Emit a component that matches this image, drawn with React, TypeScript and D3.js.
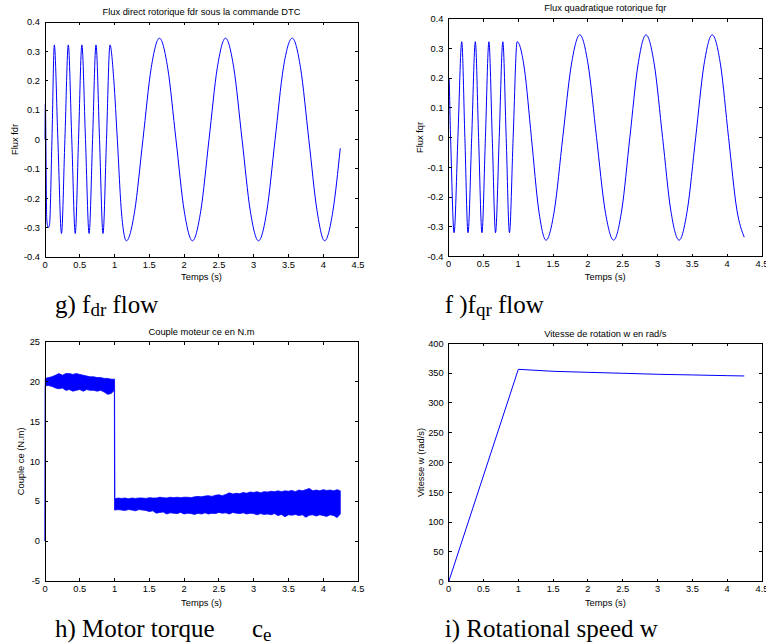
import React from "react";
import * as d3 from "d3";

const W = 766;
const H = 644;
const uiFont = "'Liberation Sans', Arial, Helvetica, sans-serif";
const capFont = "'Liberation Serif', 'Times New Roman', serif";
const blue = "#0000ff";

// axes ticks
const timeTicks = [0, 0.5, 1, 1.5, 2, 2.5, 3, 3.5, 4, 4.5];
const fluxTicks = [-0.4, -0.3, -0.2, -0.1, 0, 0.1, 0.2, 0.3, 0.4];
const torqueTicks = [-5, 0, 5, 10, 15, 20, 25];
const speedTicks = [0, 50, 100, 150, 200, 250, 300, 350, 400];

// flux fdr (Wb) vs time (s)
const fdrTime = [
  0, 0.005, 0.025, 0.045, 0.065, 0.1, 0.134, 0.185, 0.237, 0.286, 0.335, 0.385,
  0.435, 0.482, 0.53, 0.582, 0.634, 0.684, 0.733, 0.784, 0.834, 0.884, 0.934,
  0.99, 1.04, 1.1, 1.17, 1.289, 1.408, 1.527, 1.645, 1.764, 1.883, 2.002, 2.12,
  2.239, 2.358, 2.477, 2.595, 2.714, 2.833, 2.952, 3.07, 3.189, 3.308, 3.427,
  3.555, 3.674, 3.793, 3.912, 4.02, 4.139, 4.245,
];
const fdrFlux = [
  0, 0.12, -0.27, -0.3, -0.29, 0, 0.322, 0, -0.32, 0, 0.322, 0, -0.32, 0, 0.322,
  0, -0.32, 0, 0.322, 0, -0.32, 0, 0.322, 0.2, 0, -0.25, -0.345, -0.244, 0,
  0.244, 0.345, 0.244, 0, -0.244, -0.345, -0.244, 0, 0.244, 0.345, 0.244, 0,
  -0.244, -0.345, -0.244, 0, 0.244, 0.345, 0.244, 0, -0.244, -0.345, -0.244,
  -0.03,
];

// flux fqr (Wb) vs time (s)
const fqrTime = [
  0, 0.005, 0.03, 0.08, 0.135, 0.19, 0.235, 0.28, 0.333, 0.385, 0.432, 0.48,
  0.53, 0.58, 0.628, 0.675, 0.728, 0.78, 0.828, 0.875, 0.928, 0.985, 1.09, 1.19,
  1.295, 1.4, 1.52, 1.64, 1.763, 1.885, 2.005, 2.125, 2.247, 2.37, 2.487, 2.603,
  2.72, 2.835, 2.955, 3.073, 3.19, 3.31, 3.428, 3.548, 3.667, 3.785, 3.905,
  4.02, 4.14, 4.245,
];
const fqrFlux = [
  0, 0.2, 0, -0.32, 0, 0.322, 0, -0.32, 0, 0.322, 0, -0.32, 0, 0.322, 0, -0.32,
  0, 0.322, 0, -0.32, 0, 0.322, 0.23, 0, -0.244, -0.345, -0.244, 0, 0.244,
  0.345, 0.244, 0, -0.244, -0.345, -0.244, 0, 0.244, 0.345, 0.244, 0, -0.244,
  -0.345, -0.244, 0, 0.244, 0.345, 0.244, 0, -0.244, -0.335,
];

// torque ce (N.m): ripple band, upper and lower envelope
const ceTime = [
  0, 0.004, 0.05, 0.1, 0.15, 0.2, 0.25, 0.3, 0.35, 0.4, 0.45, 0.5, 0.55, 0.6,
  0.65, 0.7, 0.75, 0.8, 0.85, 0.9, 0.95, 0.997, 1.0,
  1.005, 1.05, 1.1, 1.15, 1.2, 1.25, 1.3, 1.35, 1.4, 1.45,
  1.5, 1.55, 1.6, 1.65, 1.7, 1.75, 1.8, 1.85, 1.9, 1.95,
  2.0, 2.05, 2.1, 2.15, 2.2, 2.25, 2.3, 2.35, 2.4, 2.45,
  2.5, 2.55, 2.6, 2.65, 2.7, 2.75, 2.8, 2.85, 2.9, 2.95,
  3.0, 3.05, 3.1, 3.15, 3.2, 3.25, 3.3, 3.35, 3.4, 3.45,
  3.5, 3.55, 3.6, 3.65, 3.7, 3.75, 3.8, 3.85, 3.9, 3.95,
  4.0, 4.05, 4.1, 4.15, 4.2, 4.245,
];
const ceHigh = [
  0, 20.4, 20.5, 20.6, 20.8, 21.0, 20.8, 21.0, 21.0, 20.9, 21.0, 20.9, 20.8,
  20.7, 20.6, 20.6, 20.5, 20.5, 20.4, 20.4, 20.3, 20.3, 20.3,
  5.3, 5.4, 5.35, 5.4, 5.3, 5.4, 5.35, 5.4, 5.4, 5.35,
  5.45, 5.4, 5.4, 5.5, 5.45, 5.4, 5.5, 5.45, 5.5, 5.45,
  5.5, 5.5, 5.45, 5.55, 5.6, 5.55, 5.65, 5.7, 5.6, 5.75,
  5.8, 5.7, 5.85, 6.05, 5.9, 6.0, 5.95, 6.1, 6.0, 6.15,
  6.1, 6.2, 6.05, 6.2, 6.15, 6.25, 6.2, 6.3, 6.2, 6.3,
  6.25, 6.35, 6.2, 6.4, 6.3, 6.45, 6.6, 6.3, 6.4, 6.3,
  6.45, 6.35, 6.4, 6.3, 6.45, 6.3,
];
const ceLow = [
  0, 19.5, 19.5, 19.4, 19.2, 19.1, 19.2, 18.9, 19.0, 18.8, 18.9, 19.0, 18.8,
  19.0, 18.9, 18.9, 18.8, 18.9, 18.7, 18.4, 18.5, 18.9, 3.9,
  3.9, 3.95, 3.9, 3.85, 3.95, 3.9, 3.8, 3.95, 3.9, 3.85,
  3.7, 3.8, 3.5, 3.6, 3.65, 3.4, 3.55, 3.5, 3.45, 3.6,
  3.4, 3.5, 3.45, 3.35, 3.5, 3.4, 3.55, 3.4, 3.5, 3.45,
  3.6, 3.5, 3.55, 3.4, 3.6, 3.5, 3.45, 3.55, 3.4, 3.5,
  3.45, 3.3, 3.45, 3.35, 3.4, 3.3, 3.45, 3.2, 3.35, 3.05,
  3.3, 3.25, 3.35, 3.2, 3.3, 3.0, 3.25, 3.3, 3.15, 3.3,
  3.2, 3.1, 3.3, 3.2, 2.95, 3.4,
];

// rotor speed w (rad/s)
const wTime = [0, 1.0, 1.5, 2.0, 2.5, 3.0, 3.5, 4.0, 4.245];
const wSpeed = [0, 356.4, 353, 351.3, 349.7, 348, 346.9, 345.7, 345.2];

type Box = { left: number; top: number; right: number; bottom: number };

function Axes(props: {
  box: Box;
  yDomain: [number, number];
  yTicks: number[];
  title: string;
  titleY: number;
  yLabel: string;
  yLabelX: number;
  xLabelY: number;
  draw: (x: d3.ScaleLinear<number, number>, y: d3.ScaleLinear<number, number>) => React.ReactNode;
}) {
  const { box, yDomain, yTicks, title, titleY, yLabel, yLabelX, xLabelY, draw } = props;
  const x = d3.scaleLinear().domain([0, 4.5]).range([box.left, box.right]);
  const y = d3.scaleLinear().domain(yDomain).range([box.bottom, box.top]);
  const cx = (box.left + box.right) / 2;
  const cy = (box.top + box.bottom) / 2;
  const tl = 3;
  return (
    <g fontFamily={uiFont} fontSize={9.3} fill="#000">
      {draw(x, y)}
      <rect
        x={box.left}
        y={box.top}
        width={box.right - box.left}
        height={box.bottom - box.top}
        fill="none"
        stroke="#000"
        strokeWidth={1}
        shapeRendering="crispEdges"
      />
      {timeTicks.map((t) => (
        <g key={"x" + t}>
          <line x1={x(t)} x2={x(t)} y1={box.bottom} y2={box.bottom - tl} stroke="#000" shapeRendering="crispEdges" />
          <line x1={x(t)} x2={x(t)} y1={box.top} y2={box.top + tl} stroke="#000" shapeRendering="crispEdges" />
          <text x={x(t)} y={box.bottom + 10.7} textAnchor="middle">
            {String(t)}
          </text>
        </g>
      ))}
      {yTicks.map((v) => (
        <g key={"y" + v}>
          <line x1={box.left} x2={box.left + tl} y1={y(v)} y2={y(v)} stroke="#000" shapeRendering="crispEdges" />
          <line x1={box.right} x2={box.right - tl} y1={y(v)} y2={y(v)} stroke="#000" shapeRendering="crispEdges" />
          <text x={box.left - 5} y={y(v)} dy="0.35em" textAnchor="end">
            {String(v)}
          </text>
        </g>
      ))}
      <text x={cx} y={titleY} textAnchor="middle">
        {title}
      </text>
      <text x={cx} y={xLabelY} textAnchor="middle">
        Temps (s)
      </text>
      <text transform={`translate(${yLabelX},${cy}) rotate(-90)`} textAnchor="middle" dy="0.35em">
        {yLabel}
      </text>
    </g>
  );
}

export default function App() {
  const box1: Box = { left: 45, top: 22, right: 358, bottom: 257 };
  const box2: Box = { left: 448.5, top: 18.5, right: 762, bottom: 256.5 };
  const box3: Box = { left: 45, top: 341.7, right: 358, bottom: 581 };
  const box4: Box = { left: 448.7, top: 343.3, right: 762, bottom: 581.7 };

  const lineOf = (ts: number[], vs: number[], x: any, y: any, curve: any) =>
    d3
      .line<number>()
      .x((_, i) => x(ts[i]))
      .y((v) => y(v))
      .curve(curve)(vs) || "";

  return (
    <svg
      width={W}
      height={H}
      style={{ position: "absolute", left: 0, top: 0, background: "#fff" }}
    >
      <rect width={W} height={H} fill="#fff" />
      <Axes
        box={box1}
        yDomain={[-0.4, 0.4]}
        yTicks={fluxTicks}
        title="Flux direct rotorique fdr sous la commande DTC"
        titleY={15}
        yLabel="Flux fdr"
        yLabelX={15}
        xLabelY={279.5}
        draw={(x, y) => (
          <path d={lineOf(fdrTime, fdrFlux, x, y, d3.curveMonotoneX)} fill="none" stroke={blue} strokeWidth={1} />
        )}
      />
      <Axes
        box={box2}
        yDomain={[-0.4, 0.4]}
        yTicks={fluxTicks}
        title="Flux quadratique rotorique fqr"
        titleY={10.5}
        yLabel="Flux fqr"
        yLabelX={419.7}
        xLabelY={279.5}
        draw={(x, y) => (
          <path d={lineOf(fqrTime, fqrFlux, x, y, d3.curveMonotoneX)} fill="none" stroke={blue} strokeWidth={1} />
        )}
      />
      <Axes
        box={box3}
        yDomain={[-5, 25]}
        yTicks={torqueTicks}
        title="Couple moteur ce en N.m"
        titleY={335}
        yLabel="Couple ce (N.m)"
        yLabelX={21}
        xLabelY={606}
        draw={(x, y) => {
          const band = d3
            .area<number>()
            .x((_, i) => x(ceTime[i]))
            .y0((_, i) => y(ceLow[i]))
            .y1((v) => y(v))(ceHigh);
          return <path d={band || ""} fill={blue} stroke={blue} strokeWidth={0.8} />;
        }}
      />
      <Axes
        box={box4}
        yDomain={[0, 400]}
        yTicks={speedTicks}
        title="Vitesse de rotation w en rad/s"
        titleY={336.5}
        yLabel="Vitesse w (rad/s)"
        yLabelX={421}
        xLabelY={606}
        draw={(x, y) => (
          <path d={lineOf(wTime, wSpeed, x, y, d3.curveLinear)} fill="none" stroke={blue} strokeWidth={1} />
        )}
      />

      {/* figure captions */}
      <g fontFamily={capFont} fontSize={25} fill="#000">
        <text x={55} y={313}>
          g) f<tspan fontSize={19} dy={3}>dr</tspan>
          <tspan dy={-3}> flow</tspan>
        </text>
        <text x={444.7} y={313}>
          f )f<tspan fontSize={19} dy={3}>qr</tspan>
          <tspan dy={-3}> flow</tspan>
        </text>
        <text x={55} y={637}>
          h) Motor torque
        </text>
        <text x={252} y={637}>
          c<tspan fontSize={19} dy={4}>e</tspan>
        </text>
        <text x={444.7} y={637}>
          i) Rotational speed w
        </text>
      </g>
    </svg>
  );
}
